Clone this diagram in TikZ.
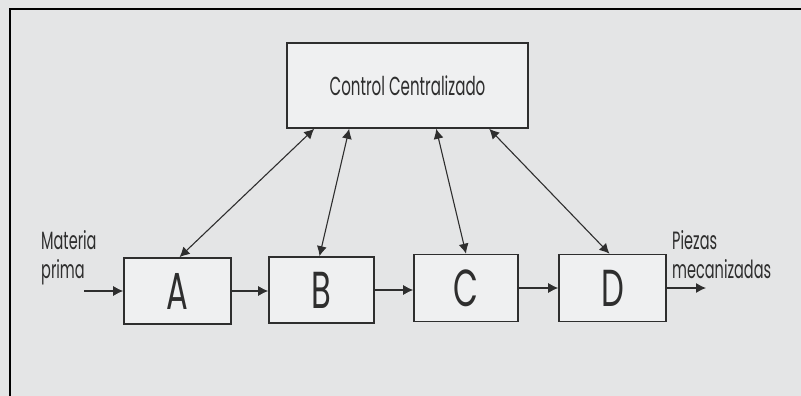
\documentclass[tikz,border=0pt]{standalone}
\usepackage{fontspec}
\usepackage{graphicx}
\setmainfont{Poppins}
\usetikzlibrary{arrows.meta,calc}
\definecolor{paper}{HTML}{E4E5E6}
\definecolor{boxfill}{HTML}{EFF0F1}
\definecolor{ink}{HTML}{2E2E2E}
\newcommand\condtxt[1]{\scalebox{0.58}[1]{#1}}
\tikzset{
  stage/.style={draw=ink, line width=1.6pt, fill=boxfill, inner sep=0pt},
  flow/.style={draw=ink, line width=1.1pt, -{Latex[length=10pt,width=10pt]}},
  link/.style={draw=ink, line width=1.1pt, {Latex[length=10pt,width=10pt]}-{Latex[length=10pt,width=10pt]}},
  lbl/.style={text=ink, font=\fontsize{25}{29}\selectfont, align=left, inner sep=0pt}
}
\begin{document}
\begin{tikzpicture}[x=1pt,y=-1pt]
  \useasboundingbox (0,0) rectangle (801,396);
  % paper and frame
  \fill[paper] (0,0) rectangle (801,396);
  \draw[black, line width=2.4pt] (10,396) -- (10,9) -- (801,9);

  % central controller and the four stages
  \node[stage, minimum width=241pt, minimum height=85pt] (ctrl) at (407.5,85.5)
    {\color{ink}\fontsize{26}{30}\selectfont\condtxt{Control Centralizado}};
  \node[stage, minimum width=107pt, minimum height=66pt] (A) at (177.5,291)
    {\color{ink}\fontsize{52}{56}\selectfont\scalebox{0.62}[1]{A}};
  \node[stage, minimum width=105pt, minimum height=66pt] (B) at (321.5,290)
    {\color{ink}\fontsize{52}{56}\selectfont\scalebox{0.62}[1]{B}};
  \node[stage, minimum width=104pt, minimum height=67pt] (C) at (466,288)
    {\color{ink}\fontsize{52}{56}\selectfont\scalebox{0.62}[1]{C}};
  \node[stage, minimum width=107pt, minimum height=67pt] (D) at (612.5,288)
    {\color{ink}\fontsize{52}{56}\selectfont\scalebox{0.62}[1]{D}};

  % input and output labels
  \node[lbl, anchor=north west] (inlbl) at (41,230) {\condtxt{Materia}\\\condtxt{prima}};
  \node[lbl, anchor=north west] (outlbl) at (672,230) {\condtxt{Piezas}\\\condtxt{mecanizadas}};

  % material flow
  \coordinate (in) at (84,291);
  \coordinate (out) at (706,288);
  \draw[flow] (in) -- (A.west);
  \draw[flow] (A.east) -- (B.west |- A.east);
  \draw[flow] (B.east) -- (C.west |- B.east);
  \draw[flow] (C.east) -- (D.west |- C.east);
  \draw[flow] (D.east) -- (out);

  % two-way links with the controller
  \coordinate (c1) at ([xshift=28pt]ctrl.south west);
  \coordinate (c2) at ([xshift=63pt]ctrl.south west);
  \coordinate (c3) at ([xshift=150pt]ctrl.south west);
  \coordinate (c4) at ([xshift=203pt]ctrl.south west);
  \draw[link] (c1) -- ([xshift=2pt]A.north);
  \draw[link] (c2) -- ([xshift=-2pt]B.north);
  \draw[link] (c3) -- (C.north);
  \draw[link] (c4) -- ([xshift=-3pt]D.north);
\end{tikzpicture}
\end{document}
